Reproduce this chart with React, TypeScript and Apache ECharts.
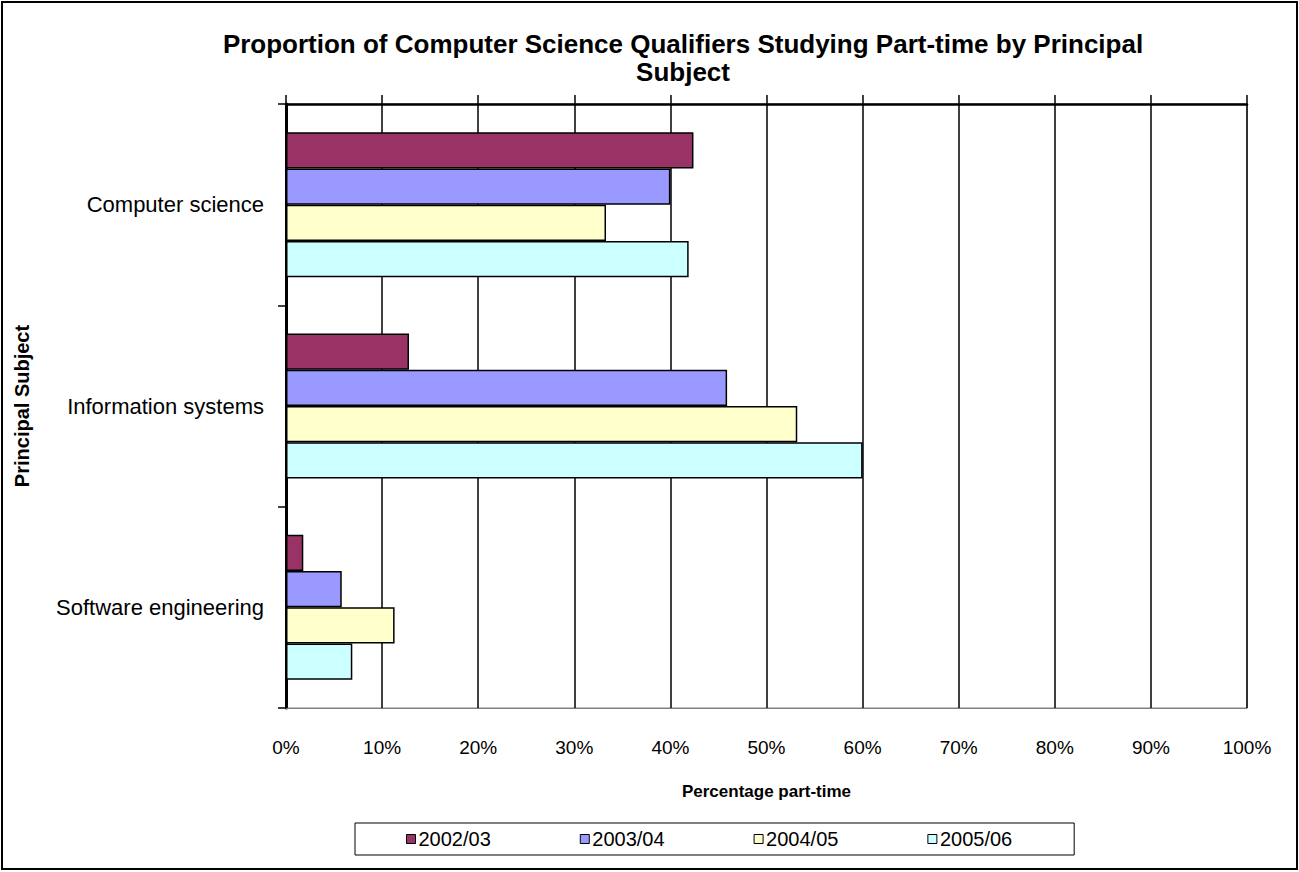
import React, { useEffect, useRef } from "react";
import * as echarts from "echarts";

const categories = ["Computer science", "Information systems", "Software engineering"];
const seriesNames = ["2002/03", "2003/04", "2004/05", "2005/06"];
const v2002 = [42.4, 12.8, 1.8];
const v2003 = [40.0, 45.9, 5.8];
const v2004 = [33.3, 53.2, 11.3];
const v2005 = [41.9, 60.0, 6.9];
const seriesColors = ["#993366", "#9999FF", "#FFFFCC", "#CCFFFF"];

const FONT = "'Liberation Sans', Arial, sans-serif";

export default function App() {
  const ref = useRef<HTMLDivElement>(null);
  useEffect(() => {
    if (!ref.current) return;
    const chart = echarts.init(ref.current, null, { renderer: "svg" });
    const values = [v2002, v2003, v2004, v2005];
    chart.setOption({
      animation: false,
      backgroundColor: "#ffffff",
      title: {
        text: "Proportion of Computer Science Qualifiers Studying Part-time by Principal\nSubject",
        left: 678,
        textAlign: "center",
        top: 25,
        textStyle: { fontFamily: FONT, fontWeight: "bold", fontSize: 26, lineHeight: 28, color: "#000" },
      },
      graphic: [
        {
          type: "rect",
          shape: { x: 2, y: 2, width: 1295, height: 867 },
          style: { fill: "none", stroke: "#000", lineWidth: 2 },
          silent: true,
          z: 100,
        },
      ],
      legend: {
        data: seriesNames,
        left: 355,
        top: 823,
        orient: "horizontal",
        icon: "rect",
        itemWidth: 9,
        itemHeight: 9,
        itemGap: 89,
        padding: [6, 62, 6, 51],
        borderColor: "#000",
        borderWidth: 1,
        textStyle: { fontFamily: FONT, fontSize: 20, color: "#000", padding: [0, 0, 0, -2] },
        itemStyle: { borderColor: "#000", borderWidth: 1 },
      },
      grid: {
        left: 286,
        right: 52,
        top: 104,
        bottom: 164,
        show: true,
        borderColor: "#808080",
        borderWidth: 1,
        backgroundColor: "#ffffff",
      },
      xAxis: [
        {
          type: "value",
          position: "bottom",
          min: 0,
          max: 100,
          interval: 10,
          name: "Percentage part-time",
          nameLocation: "middle",
          nameGap: 75,
          nameTextStyle: { fontFamily: FONT, fontWeight: "bold", fontSize: 17, color: "#000" },
          axisLine: { show: true, lineStyle: { color: "#808080", width: 1 } },
          axisTick: { show: false },
          axisLabel: { formatter: "{value}%", fontFamily: FONT, fontSize: 19, color: "#000", margin: 30 },
          splitLine: { show: true, lineStyle: { color: "#000", width: 1.5 } },
        },
        {
          type: "value",
          position: "top",
          min: 0,
          max: 100,
          interval: 10,
          axisLine: { show: true, lineStyle: { color: "#000", width: 2.5 } },
          axisTick: { show: true, inside: false, length: 9, lineStyle: { color: "#000", width: 1.5 } },
          axisLabel: { show: false },
          splitLine: { show: false },
        },
      ],
      yAxis: {
        type: "category",
        data: categories,
        inverse: true,
        name: "Principal Subject",
        nameLocation: "middle",
        nameGap: 254,
        nameRotate: 90,
        nameTextStyle: { fontFamily: FONT, fontWeight: "bold", fontSize: 20, color: "#000" },
        axisLine: { show: true, lineStyle: { color: "#000", width: 3 } },
        axisTick: { show: true, inside: false, length: 8, lineStyle: { color: "#000", width: 1.5 } },
        axisLabel: { fontFamily: FONT, fontSize: 22, color: "#000", margin: 22 },
        splitLine: { show: false },
      },
      series: seriesNames.map((name, i) => ({
        name,
        type: "bar",
        xAxisIndex: 0,
        data: values[i],
        barGap: "0%",
        barCategoryGap: "28%",
        itemStyle: { color: seriesColors[i], borderColor: "#000", borderWidth: 1.5 },
      })),
    });
    return () => chart.dispose();
  }, []);
  return (
    <div
      ref={ref}
      style={{ position: "fixed", left: 0, top: 0, width: 1299, height: 872 }}
    />
  );
}
